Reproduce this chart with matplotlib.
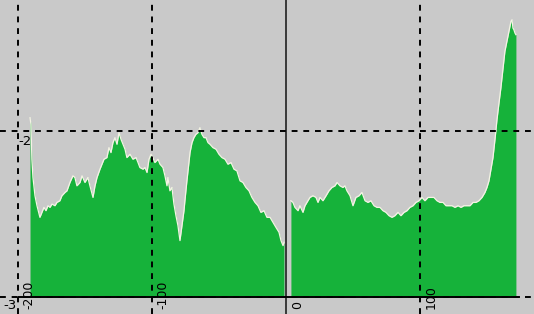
import matplotlib
matplotlib.use("Agg")
import matplotlib.pyplot as plt

# segment 1 (left of zero)
x1 = [-191.0, -190.3, -189.6, -188.8, -187.3, -185.8, -183.6, -182.1, -180.6, -179.1,
      -177.6, -176.1, -174.6, -172.4, -170.9, -168.7, -167.2, -164.9, -163.4, -161.2,
      -159.0, -157.5, -156.0, -153.7, -152.2, -150.0, -147.8, -146.3, -144.0, -142.5,
      -141.0, -138.8, -137.3, -135.8, -133.6, -132.1, -130.6, -129.1, -127.6, -126.1,
      -124.6, -123.1, -121.6, -120.1, -118.7, -116.4, -114.2, -111.9, -110.4, -109.0,
      -106.7, -105.2, -103.7, -102.2, -100.7, -99.3, -97.8, -95.5, -94.0, -91.8,
      -90.3, -88.8, -88.1, -86.6, -85.1, -83.6, -82.1, -80.6, -79.1, -77.6,
      -76.1, -75.4, -73.9, -72.4, -71.6, -70.1, -68.7, -67.2, -65.7, -64.2,
      -62.7, -61.2, -59.7, -58.2, -56.7, -54.5, -52.2, -50.0, -47.8, -45.5,
      -43.3, -41.0, -38.8, -36.6, -34.3, -32.1, -29.9, -27.6, -25.4, -23.1,
      -20.9, -18.7, -16.4, -14.2, -11.9, -9.7, -7.5, -5.2, -3.7, -2.2, -1.5]
y1 = [-1.92, -1.96, -2.17, -2.28, -2.39, -2.45, -2.52, -2.49, -2.46, -2.48,
      -2.45, -2.46, -2.44, -2.45, -2.43, -2.42, -2.39, -2.37, -2.36, -2.31,
      -2.27, -2.28, -2.33, -2.31, -2.27, -2.31, -2.28, -2.33, -2.40, -2.33,
      -2.28, -2.23, -2.20, -2.17, -2.16, -2.10, -2.13, -2.07, -2.04, -2.08,
      -2.01, -2.05, -2.08, -2.11, -2.16, -2.14, -2.17, -2.16, -2.19, -2.22,
      -2.23, -2.22, -2.25, -2.17, -2.14, -2.16, -2.19, -2.17, -2.20, -2.22,
      -2.27, -2.33, -2.28, -2.36, -2.34, -2.44, -2.51, -2.57, -2.66, -2.57,
      -2.48, -2.42, -2.30, -2.19, -2.13, -2.07, -2.04, -2.02, -2.01, -1.98,
      -2.02, -2.04, -2.04, -2.07, -2.08, -2.10, -2.11, -2.14, -2.16, -2.17,
      -2.20, -2.19, -2.23, -2.24, -2.30, -2.31, -2.34, -2.36, -2.40, -2.43,
      -2.45, -2.49, -2.48, -2.52, -2.52, -2.55, -2.58, -2.61, -2.66, -2.69, -2.67]

# segment 2 (right of zero)
x2 = [3.7, 5.2, 6.7, 9.0, 10.4, 12.7, 14.2, 16.4, 17.9, 20.1,
      22.4, 23.9, 25.4, 27.6, 29.9, 32.1, 34.3, 36.6, 38.1, 40.3,
      42.5, 44.0, 45.5, 47.8, 50.0, 52.2, 54.5, 56.7, 59.0, 61.2,
      63.4, 65.7, 67.9, 70.1, 72.4, 74.6, 76.9, 79.1, 81.3, 83.6,
      85.8, 88.1, 90.3, 92.5, 94.8, 97.0, 99.3, 101.5, 103.7, 106.0,
      108.2, 110.4, 112.7, 114.9, 117.2, 119.4, 121.6, 123.9, 126.1, 128.4,
      130.6, 132.8, 135.1, 137.3, 139.6, 141.8, 144.0, 146.3, 148.5, 150.0,
      151.5, 153.0, 154.5, 156.0, 157.5, 159.0, 160.4, 161.9, 163.4, 164.9,
      166.4, 167.9, 168.7, 169.4, 170.1, 170.9, 171.6]
y2 = [-2.42, -2.43, -2.46, -2.48, -2.45, -2.49, -2.45, -2.42, -2.40, -2.39,
      -2.40, -2.43, -2.40, -2.42, -2.39, -2.36, -2.34, -2.33, -2.31, -2.33,
      -2.34, -2.33, -2.36, -2.39, -2.45, -2.40, -2.39, -2.37, -2.42, -2.43,
      -2.42, -2.45, -2.46, -2.46, -2.48, -2.49, -2.51, -2.52, -2.51, -2.49,
      -2.51, -2.49, -2.48, -2.46, -2.45, -2.43, -2.42, -2.40, -2.42, -2.40,
      -2.40, -2.40, -2.42, -2.43, -2.43, -2.45, -2.45, -2.45, -2.46, -2.45,
      -2.46, -2.45, -2.45, -2.45, -2.43, -2.43, -2.42, -2.40, -2.37, -2.34,
      -2.30, -2.23, -2.16, -2.05, -1.93, -1.83, -1.74, -1.63, -1.52, -1.46,
      -1.40, -1.34, -1.33, -1.38, -1.39, -1.41, -1.42]

xticks = [-200, -100, 0, 100]
xtick_labels = ["-200", "-100", "0", "100"]
yticks = [-2, -3]
ytick_labels = ["-2", "-3"]

bg = "#c9c9c9"
green = "#16b23a"

fig = plt.figure(figsize=(5.34, 3.14), dpi=100)
fig.patch.set_facecolor(bg)
ax = fig.add_axes([0, 0, 1, 1])
ax.set_facecolor(bg)
ax.set_xlim(-213.4, 185.1)
ax.set_ylim(-3.102, -1.211)
ax.axis("off")

base = -3.0
for xs, ys in [(x1, y1), (x2, y2)]:
    ax.fill_between(xs, ys, base, color=green, lw=0, zorder=2)
    ax.plot(xs, ys, color="#f4f4e4", lw=0.9, zorder=3)

# grid
for t in xticks:
    if t == 0:
        ax.axvline(t, color="#202020", lw=1.2, zorder=4)
    else:
        ax.axvline(t, color="black", lw=1.4, ls=(0, (3, 3)), zorder=4)
for t in yticks:
    ax.axhline(t, color="black", lw=1.4, ls=(0, (3, 3)), zorder=4)
ax.plot([-199, 174], [base, base], color="black", lw=1.4, zorder=5)

for t, lab in zip(xticks, xtick_labels):
    ax.text(t + 3.5, -3.072, lab, rotation=90, ha="left", va="bottom",
            fontsize=9, color="black", zorder=6)
ax.text(-200, -2.025, ytick_labels[0], ha="left", va="top",
        fontsize=9.5, color="black", zorder=6)
ax.text(-201, -3.01, ytick_labels[1], ha="right", va="top",
        fontsize=9.5, color="black", zorder=6)

fig.savefig("out.png", dpi=100, facecolor=bg)
